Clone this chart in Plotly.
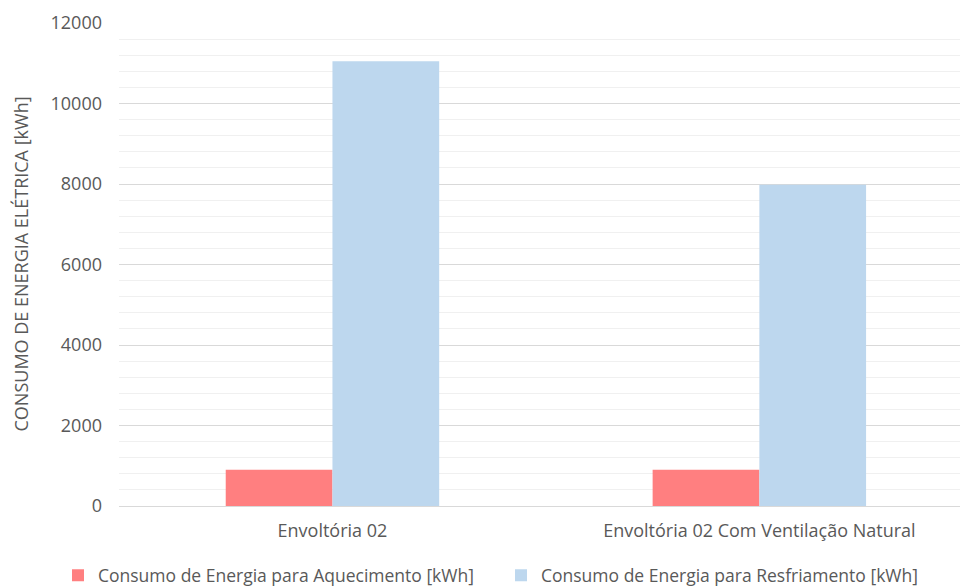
import plotly.graph_objects as go

categorias = ["Envoltória 02", "Envoltória 02 Com Ventilação Natural"]
aquecimento = [900, 900]
resfriamento = [11050, 7980]

serie_aquec = "Consumo de Energia para Aquecimento [kWh]"
serie_resf = "Consumo de Energia para Resfriamento [kWh]"

fig = go.Figure()
fig.add_trace(go.Bar(x=categorias, y=aquecimento, name=serie_aquec, legend="legend",
                     marker=dict(color="#FF7F80", line=dict(width=0))))
fig.add_trace(go.Bar(x=categorias, y=resfriamento, name=serie_resf, legend="legend2",
                     marker=dict(color="#BDD7EE", line=dict(width=0))))

fonte = "Open Sans"
cinza = "#595959"

# one legend box per series, side by side beneath the axis
estilo_legenda = dict(orientation="h", xref="container", yref="container",
                      xanchor="left", y=0.018, yanchor="middle",
                      font=dict(size=17.5, color=cinza), itemwidth=30,
                      bgcolor="rgba(0,0,0,0)")

fig.update_layout(
    width=960, height=586,
    margin=dict(l=119, r=0, t=23, b=80, autoexpand=False),
    paper_bgcolor="white", plot_bgcolor="white",
    barmode="group", bargap=0.5, bargroupgap=0,
    font=dict(family=fonte, size=18, color=cinza),
    showlegend=True,
    legend=dict(x=58 / 960, **estilo_legenda),
    legend2=dict(x=501 / 960, **estilo_legenda),
    xaxis=dict(range=[-0.5, 1.47], showgrid=False, showline=False, ticks="",
               tickfont=dict(size=18, color=cinza), ticklabelstandoff=12,
               automargin=False),
    yaxis=dict(range=[0, 12000], dtick=2000, tickformat="d", showgrid=True,
               gridcolor="#D9D9D9", gridwidth=1, zeroline=True,
               zerolinecolor="#D9D9D9", zerolinewidth=1, automargin=False,
               tickfont=dict(size=18, color=cinza), ticks="", ticklabelstandoff=16,
               minor=dict(dtick=400, showgrid=True, gridcolor="#F0F0F0", gridwidth=1)),
    annotations=[dict(text="CONSUMO DE ENERGIA ELÉTRICA [kWh]", textangle=-90,
                      xref="paper", yref="paper", x=0, y=0.5, xshift=-99,
                      xanchor="center", yanchor="middle", showarrow=False,
                      font=dict(size=18, color=cinza))],
)

fig.write_html("out.html")
